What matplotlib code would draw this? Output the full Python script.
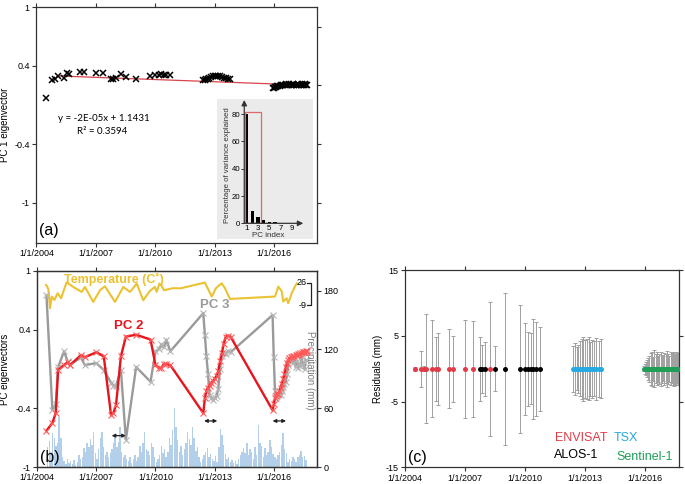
import numpy as np
import matplotlib
matplotlib.use('Agg')
import matplotlib.pyplot as plt
from matplotlib.patches import Rectangle

plt.rcParams['font.family'] = ['Liberation Sans', 'DejaVu Sans']
plt.rcParams['axes.unicode_minus'] = False

# ---------------- data ----------------
year_ticks = [2004, 2007, 2010, 2013, 2016]
year_labels = ['1/1/2004', '1/1/2007', '1/1/2010', '1/1/2013', '1/1/2016']

env_dates = [2004.48, 2004.78, 2004.95, 2005.07, 2005.37, 2005.55, 2005.67, 2006.22, 2006.42, 2007.0, 2007.38, 2008.25]
alos_dates = [2007.75, 2007.87, 2008.0, 2008.5, 2009.02, 2009.75, 2010.0, 2010.17, 2010.3, 2010.42, 2010.55, 2010.75]
tsx_dates = [2012.42, 2012.5, 2012.58, 2012.66, 2012.74, 2012.83, 2012.92, 2013.0, 2013.09, 2013.18,
             2013.27, 2013.36, 2013.46, 2013.56, 2013.68, 2013.8]
s1_dates = [2015.93, 2015.99, 2016.05, 2016.1, 2016.16, 2016.22, 2016.28, 2016.34, 2016.4, 2016.47,
            2016.53, 2016.6, 2016.66, 2016.72, 2016.78, 2016.85, 2016.91, 2016.97, 2017.03, 2017.1,
            2017.16, 2017.22, 2017.28, 2017.34, 2017.4, 2017.45, 2017.5, 2017.55, 2017.6, 2017.65]

# PC1 eigenvector (panel a)
pc1_env = [0.075, 0.255, 0.265, 0.30, 0.28, 0.33, 0.32, 0.333, 0.333, 0.323, 0.323, 0.32]
pc1_alos = [0.27, 0.27, 0.28, 0.29, 0.27, 0.30, 0.31, 0.31, 0.315, 0.31, 0.31, 0.31]
pc1_tsx = [0.25, 0.255, 0.26, 0.27, 0.28, 0.29, 0.30, 0.30, 0.30, 0.30, 0.295, 0.29, 0.28, 0.275, 0.27, 0.27]
pc1_s1 = [0.17, 0.175, 0.18, 0.185, 0.19, 0.195, 0.19, 0.2, 0.2, 0.205, 0.2, 0.21, 0.205, 0.2, 0.21,
          0.205, 0.2, 0.21, 0.205, 0.2, 0.205, 0.21, 0.2, 0.205, 0.21, 0.2, 0.205, 0.21, 0.2, 0.205]
trend_x = [2005.1, 2017.0]
trend_y = [0.296, 0.207]

# inset: variance explained
pc_index = [1, 2, 3, 4, 5, 6, 7, 8, 9]
var_explained = [80, 9.3, 4.4, 2.2, 1.2, 1.0, 0.5, 0.3, 0.2]

# PC2 / PC3 eigenvectors (panel b)
pc2_env = [-0.63, -0.55, -0.45, -0.01, 0.04, 0.07, 0.04, 0.14, 0.12, 0.17, 0.13, 0.13]
pc2_alos = [-0.47, -0.45, -0.37, 0.33, 0.35, 0.30, 0.04, 0.01, 0.01, 0.05, 0.05, 0.04]
pc2_tsx = [-0.45, -0.30, -0.22, -0.19, -0.17, -0.14, -0.12, -0.10, -0.07, -0.02, 0.08, 0.16, 0.26, 0.33, 0.34, 0.33]
pc2_s1 = [-0.42, -0.36, -0.30, -0.28, -0.26, -0.25, -0.22, -0.19, -0.15, -0.10, -0.05, 0.02, 0.06, 0.09, 0.11,
          0.12, 0.12, 0.13, 0.13, 0.14, 0.14, 0.15, 0.15, 0.16, 0.16, 0.17, 0.17, 0.17, 0.18, 0.18]
pc3_env = [0.75, -0.42, -0.36, 0.02, 0.18, 0.08, 0.04, 0.12, 0.04, 0.06, -0.01, -0.01]
pc3_alos = [-0.14, -0.17, -0.17, -0.72, 0.02, -0.13, 0.18, 0.20, 0.25, 0.22, 0.30, 0.18]
pc3_tsx = [0.57, 0.35, 0.13, -0.05, -0.27, -0.30, -0.32, -0.30, -0.28, -0.20, 0.0, 0.13, 0.16, 0.15, 0.18, 0.17]
pc3_s1 = [0.55, 0.12, -0.22, -0.30, -0.28, -0.27, -0.25, -0.27, -0.22, -0.18, -0.15, -0.13, -0.05, 0.04, 0.11,
          0.08, 0.12, 0.06, 0.10, 0.02, 0.08, 0.01, 0.06, 0.03, 0.12, 0.04, 0.07, 0.0, 0.09, 0.09]

# temperature (deg C)
temp_dates = [2004.46, 2004.52, 2004.58, 2004.66, 2004.75, 2004.88, 2005.05, 2005.22, 2005.5, 2005.84,
              2006.26, 2006.43, 2006.85, 2007.19, 2007.44, 2007.95, 2008.37, 2008.71, 2009.05, 2009.38,
              2009.72, 2009.97, 2010.06, 2010.2, 2010.3, 2010.43, 2010.87, 2011.29, 2012.5, 2012.85,
              2013.06, 2013.35, 2013.52, 2013.77, 2016.05, 2016.22, 2016.39, 2016.47, 2016.64, 2016.72,
              2016.9, 2017.06, 2017.16]
temp_vals = [22.9, 20.3, 15.0, -13.7, 4.6, -0.7, 9.8, 2.0, 27.0, 19.7,
             11.9, 19.7, -3.8, 14.5, 20.8, -3.8, 19.7, 11.9, 25.0, -1.2,
             13.5, 19.7, 11.9, 25.0, 22.0, 14.5, 17.7, 17.7, 26.6, 4.6,
             17.7, 25.5, 17.7, 0.9, 4.6, 20.3, 13.0, -3.2, 2.0, -5.9,
             9.8, 20.3, 25.5]

# monthly precipitation (mm), Jul 2004 - Aug 2017
precip_start = 2004.5
precip = [20, 27, 15, 35, 30, 21,
          25, 51, 30, 10, 6, 3, 8, 4, 6, 3, 7, 2,
          5, 12, 8, 10, 19, 15, 24, 20, 29, 22, 36, 14,
          8, 18, 30, 36, 20, 12, 15, 10, 14, 18, 25, 31,
          20, 26, 41, 15, 10, 12, 8, 6, 10, 4, 8, 12,
          6, 10, 21, 15, 25, 36, 18, 16, 12, 24, 20, 10,
          5, 8, 12, 21, 14, 18, 10, 15, 30, 22, 38, 60,
          41, 28, 15, 21, 12, 18, 25, 36, 29, 22, 41, 30,
          16, 20, 10, 5, 8, 12, 15, 19, 10, 13, 8, 6,
          11, 5, 20, 39, 33, 22, 13, 8, 10, 5, 7, 4,
          6, 3, 8, 12, 15, 19, 14, 24, 12, 18, 15, 8,
          20, 12, 43, 25, 21, 10, 19, 12, 15, 28, 20, 13,
          10, 8, 12, 15, 22, 35, 18, 14, 5, 8, 6, 10,
          8, 5, 10, 12, 16, 10, 11, 7]

arrow_start = [2007.78, 2012.46, 2015.93]
arrow_end = [2008.5, 2013.13, 2016.61]
arrow_y = [-0.68, -0.53, -0.53]

# residuals (panel c)
env_res = [0, 0, 0, 0, 0, 0, 0, 0, 0, 0, 0, 0]
env_err = [0.3, 2.7, 0.4, 8.3, 7.4, 4.9, 5.5, 6.0, 5.0, 7.5, 7.3, 10.2]
alos_res = [0, 0, 0, 0, 0, 0, 0, 0, 0, 0, 0, 0]
alos_err = [4.9, 3.7, 4.1, 3.4, 11.6, 9.7, 7.0, 5.6, 5.4, 7.6, 7.2, 6.4]
tsx_res = [0, 0, 0, 0, 0, 0, 0, 0, 0, 0, 0, 0, 0, 0, 0, 0]
tsx_err = [3.5, 4.0, 3.3, 3.7, 4.2, 4.6, 4.9, 4.4, 4.6, 4.8, 4.1, 4.4, 4.2, 4.7, 4.3, 4.5]
s1_res = [0, 0, 0, 0, 0, 0, 0, 0, 0, 0, 0, 0, 0, 0, 0, 0, 0, 0, 0, 0, 0, 0, 0, 0, 0, 0, 0, 0, 0, 0]
s1_err = [0.4, 0.8, 1.0, 1.3, 1.7, 2.0, 2.4, 2.6, 1.8, 2.8, 2.2, 2.5, 2.0, 2.3, 2.6,
          2.1, 1.9, 2.4, 2.2, 2.7, 2.3, 2.0, 2.5, 2.2, 2.4, 2.6, 2.3, 2.5, 2.2, 2.4]

# ---------------- styles ----------------
SPINE = '#333333'
RED = '#e8141c'
GRAY = '#9a9a9a'
GOLD = '#ebc232'
BLUEBAR = '#b3cfea'
TICKFS = 6.5


def style(ax):
    for s in ax.spines.values():
        s.set_color(SPINE)
        s.set_linewidth(0.9)
    ax.tick_params(direction='out', length=3, width=0.8, color=SPINE,
                   labelsize=TICKFS, labelcolor='black', pad=1.5)


fig = plt.figure(figsize=(6.85, 4.84), dpi=100)

# ---------------- panel (a) ----------------
ax_a = fig.add_axes([0.0526, 0.4979, 0.4102, 0.4876])
style(ax_a)
all_dates = np.array(env_dates + alos_dates + tsx_dates + s1_dates)
pc1_all = np.array(pc1_env + pc1_alos + pc1_tsx + pc1_s1)
ax_a.plot(trend_x, trend_y, color='#d8444a', lw=0.9, zorder=2)
ax_a.plot(all_dates, pc1_all, 'x', color='black', ms=4.5, mew=1.1, zorder=3)
ax_a.set_xlim(2003.98, 2018.17)
ax_a.set_ylim(-1.41, 1.0)
ax_a.set_yticks([1, 0.4, -0.4, -1])
ax_a.set_yticklabels(['1', '0.4', '-0.4', '-1'])
ax_a.set_xticks(year_ticks)
ax_a.set_xticklabels(year_labels)
ax_a.tick_params(top=True)
ax_a.set_ylabel('PC 1 eigenvector', fontsize=7)
ax_a.yaxis.set_label_coords(-0.092, 0.5)
ax_a.text(2005.09, -0.143, 'y = -2E-05x + 1.1431', family=['Lato', 'DejaVu Sans'], fontsize=7,
          ha='left', va='center')
ax_a.text(2006.05, -0.276, 'R² = 0.3594', family=['Lato', 'DejaVu Sans'], fontsize=7,
          ha='left', va='center')
ax_a.text(0.012, 0.055, '(a)', transform=ax_a.transAxes, fontsize=11.5, ha='left', va='center')
ax_a2 = ax_a.twinx()
ax_a2.set_ylim(-1.41, 1.0)
ax_a2.set_yticks([0.8, 0.2, -0.4, -1.0])
ax_a2.set_yticklabels([])
ax_a2.tick_params(direction='out', length=3, width=0.8, color=SPINE)
for s in ax_a2.spines.values():
    s.set_visible(False)

# inset background
bg = Rectangle((0.3163, 0.5056), 0.141, 0.2893, transform=fig.transFigure,
               facecolor='#ebebeb', edgecolor='none', zorder=1)
fig.patches.append(bg)

ax_in = fig.add_axes([0.3566, 0.5386, 0.0861, 0.2548])
ax_in.set_zorder(5)
ax_in.patch.set_visible(False)
ax_in.bar(pc_index, var_explained, width=0.6, color='black')
ax_in.add_patch(Rectangle((0.7, 0), 2.82, 81.3, fill=False, edgecolor='#e06a6a', lw=0.9))
ax_in.set_xlim(0.58, 11.0)
ax_in.set_ylim(0, 90.3)
for s in ax_in.spines.values():
    s.set_visible(False)
ax_in.annotate('', xy=(0, 1.0), xytext=(0, 0), xycoords='axes fraction',
               arrowprops=dict(arrowstyle='-|>', color='#333333', lw=0.9, mutation_scale=8,
                               shrinkA=0, shrinkB=0))
ax_in.annotate('', xy=(1.0, 0), xytext=(0, 0), xycoords='axes fraction',
               arrowprops=dict(arrowstyle='-|>', color='#333333', lw=0.9, mutation_scale=8,
                               shrinkA=0, shrinkB=0))
ax_in.set_yticks([0, 20, 40, 60, 80])
ax_in.set_xticks([1, 3, 5, 7, 9])
ax_in.tick_params(axis='y', direction='out', length=2, width=0.7, color='#333333',
                  labelsize=5.6, pad=1)
ax_in.tick_params(axis='x', length=0, labelsize=5.6, pad=1.5)
ax_in.text(-0.29, 0.47, 'Percentage of variance explained', transform=ax_in.transAxes,
           rotation=90, fontsize=5.6, ha='center', va='center', color='#333333')
ax_in.text(0.40, -0.095, 'PC index', transform=ax_in.transAxes, fontsize=5.8,
           ha='center', va='center', color='#333333')

# ---------------- panel (b) ----------------
ax_b = fig.add_axes([0.054, 0.0351, 0.4088, 0.405])
ax_p = ax_b.twinx()
ax_t = ax_b.twinx()
ax_p.set_zorder(1)
ax_t.set_zorder(2)
ax_b.set_zorder(3)
ax_b.patch.set_visible(False)
ax_t.patch.set_visible(False)
style(ax_b)
style(ax_p)

precip_x = precip_start + (np.arange(len(precip)) + 0.5) / 12.0
ax_p.bar(precip_x, precip, width=0.072, color=BLUEBAR, edgecolor='none')
ax_p.set_ylim(0, 200)
ax_p.set_yticks([0, 60, 120, 180])
ax_p.tick_params(axis='y', direction='out', length=3, labelsize=TICKFS)

ax_t.plot(temp_dates, temp_vals, color=GOLD, lw=1.5)
ax_t.set_ylim(-263.3, 44.8)
ax_t.axis('off')
ax_t.set_xlim(2004.0, 2018.18)
ax_t.plot([2017.66, 2017.85, 2017.85, 2017.66], [26, 26, -9, -9], color='#222222', lw=0.9, clip_on=False)
ax_t.text(2017.64, 26, '26', fontsize=TICKFS, ha='right', va='center')
ax_t.text(2017.64, -9, '-9', fontsize=TICKFS, ha='right', va='center')

order = np.argsort(all_dates)
pc2_all = np.array(pc2_env + pc2_alos + pc2_tsx + pc2_s1)[order]
pc3_all = np.array(pc3_env + pc3_alos + pc3_tsx + pc3_s1)[order]
d_sorted = all_dates[order]
ax_b.plot(d_sorted, pc3_all, '-', color=GRAY, lw=1.7, marker='x', ms=4, mew=0.8,
          mec='#b5b5b5', zorder=3)
ax_b.plot(d_sorted, pc2_all, '-', color=RED, lw=1.7, marker='x', ms=4, mew=0.8,
          mec='#ff5a5a', zorder=4)
for xs, xe, yy in zip(arrow_start, arrow_end, arrow_y):
    ax_b.annotate('', xy=(xe, yy), xytext=(xs, yy),
                  arrowprops=dict(arrowstyle='<|-|>', color='#222222', lw=0.9,
                                  mutation_scale=5, shrinkA=0, shrinkB=0))
ax_b.set_xlim(2004.0, 2018.18)
ax_p.set_xlim(2004.0, 2018.18)
ax_b.set_ylim(-1, 1)
ax_b.set_yticks([1, 0.4, -0.4, -1])
ax_b.set_yticklabels(['1', '0.4', '-0.4', '-1'])
ax_b.set_xticks(year_ticks)
ax_b.set_xticklabels(year_labels)
ax_b.tick_params(top=True)
ax_b.set_ylabel('PC eigenvectors', fontsize=7)
ax_b.yaxis.set_label_coords(-0.096, 0.5)
ax_b.text(2007.9, 0.915, 'Temperature (C˚)', color=GOLD, fontsize=9, fontweight='bold',
          ha='center', va='center')
ax_b.text(2008.66, 0.436, 'PC 2', color=RED, fontsize=9.5, fontweight='bold',
          ha='center', va='center')
ax_b.text(2013.01, 0.65, 'PC 3', color=GRAY, fontsize=9.5, fontweight='bold',
          ha='center', va='center')
ax_b.text(0.975, 0.495, 'Precipitation (mm)', transform=ax_b.transAxes, rotation=270,
          color='#7f7f7f', fontsize=7, ha='center', va='center')
ax_b.text(0.011, 0.05, '(b)', transform=ax_b.transAxes, fontsize=11.5, ha='left', va='center')

# ---------------- panel (c) ----------------
ax_c = fig.add_axes([0.5912, 0.0345, 0.4, 0.407])
style(ax_c)
for d, r, e in [(env_dates, env_res, env_err), (alos_dates, alos_res, alos_err),
                (tsx_dates, tsx_res, tsx_err), (s1_dates, s1_res, s1_err)]:
    ax_c.errorbar(d, r, yerr=e, fmt='none', ecolor='#a0a0a0', elinewidth=0.7,
                  capsize=1.5, capthick=0.7, zorder=2)
ax_c.plot(env_dates, env_res, 'o', color='#e23a46', ms=3.6, mec='none', zorder=3)
ax_c.plot(alos_dates, alos_res, 'o', color='black', ms=3.6, mec='none', zorder=3)
ax_c.plot(tsx_dates, tsx_res, 'o', color='#27aae1', ms=3.6, mec='none', zorder=3)
ax_c.plot(s1_dates, s1_res, 'o', color='#1f9e55', ms=3.6, mec='none', zorder=3)
ax_c.set_xlim(2004.0, 2017.7)
ax_c.set_ylim(-15, 15)
ax_c.set_yticks([15, 5, -5, -15])
ax_c.set_xticks(year_ticks)
ax_c.set_xticklabels(year_labels)
ax_c.tick_params(top=True, right=True)
ax_c.set_ylabel('Residuals (mm)', fontsize=7)
ax_c.yaxis.set_label_coords(-0.08, 0.5)
ax_c.text(0.547, 0.149, 'ENVISAT', transform=ax_c.transAxes, color='#e23a46', fontsize=9,
          ha='left', va='center')
ax_c.text(0.763, 0.149, 'TSX', transform=ax_c.transAxes, color='#27aae1', fontsize=9,
          ha='left', va='center')
ax_c.text(0.544, 0.062, 'ALOS-1', transform=ax_c.transAxes, color='black', fontsize=9,
          ha='left', va='center')
ax_c.text(0.77, 0.054, 'Sentinel-1', transform=ax_c.transAxes, color='#1f9e55', fontsize=9,
          ha='left', va='center')
ax_c.text(0.011, 0.052, '(c)', transform=ax_c.transAxes, fontsize=11.5, ha='left', va='center')

fig.savefig('out.png', dpi=100)
